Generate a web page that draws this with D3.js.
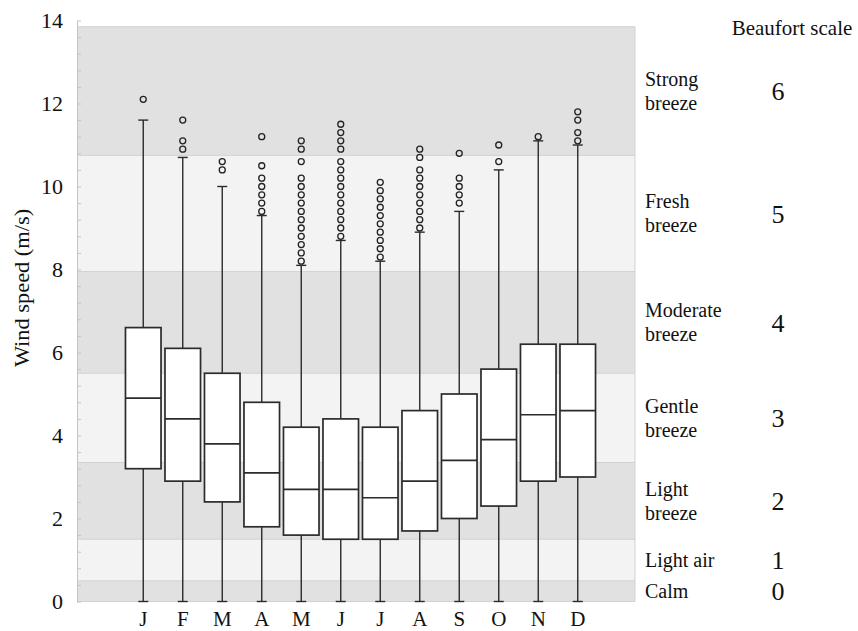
<!DOCTYPE html>
<html>
<head>
<meta charset="utf-8">
<script src="https://cdn.jsdelivr.net/npm/d3@7"></script>
<style>
  body { margin: 0; background: #fff; }
  text { font-family: "Liberation Serif", "Times New Roman", serif; fill: #111; }
</style>
</head>
<body>
<script>
const months = ["J", "F", "M", "A", "M", "J", "J", "A", "S", "O", "N", "D"];
const q1      = [3.2, 2.9, 2.4, 1.8, 1.6, 1.5, 1.5, 1.7, 2.0, 2.3, 2.9, 3.0];
const medians = [4.9, 4.4, 3.8, 3.1, 2.7, 2.7, 2.5, 2.9, 3.4, 3.9, 4.5, 4.6];
const q3      = [6.6, 6.1, 5.5, 4.8, 4.2, 4.4, 4.2, 4.6, 5.0, 5.6, 6.2, 6.2];
const whiskerLow  = [0, 0, 0, 0, 0, 0, 0, 0, 0, 0, 0, 0];
const whiskerHigh = [11.6, 10.7, 10.0, 9.3, 8.1, 8.7, 8.2, 8.9, 9.4, 10.4, 11.1, 11.0];
const outliers = [
  [12.1],
  [11.6, 11.1, 10.9],
  [10.6, 10.4],
  [11.2, 10.5, 10.2, 10.0, 9.8, 9.6, 9.4],
  [11.1, 10.9, 10.6, 10.2, 10.0, 9.8, 9.6, 9.4, 9.2, 9.0, 8.8, 8.6, 8.4, 8.2],
  [11.5, 11.3, 11.1, 10.9, 10.6, 10.4, 10.2, 10.0, 9.8, 9.6, 9.4, 9.2, 9.0, 8.8],
  [10.1, 9.9, 9.7, 9.5, 9.3, 9.1, 8.9, 8.7, 8.5, 8.3],
  [10.9, 10.7, 10.4, 10.2, 10.0, 9.8, 9.6, 9.4, 9.2, 9.0],
  [10.8, 10.2, 10.0, 9.8, 9.6],
  [11.0, 10.6],
  [11.2],
  [11.8, 11.6, 11.3, 11.1]
];

// Beaufort bands (lower edges) and labels
const bandEdges = [0, 0.5, 1.5, 3.35, 5.5, 7.95, 10.75, 13.85];
const bandNames = [["Calm"], ["Light air"], ["Light", "breeze"], ["Gentle", "breeze"],
                   ["Moderate", "breeze"], ["Fresh", "breeze"], ["Strong", "breeze"]];
const bandNumbers = ["0", "1", "2", "3", "4", "5", "6"];

const width = 858, height = 631;
const plot = { left: 77, right: 635 };

const svg = d3.select("body").append("svg")
  .attr("width", width)
  .attr("height", height);

const y = d3.scaleLinear().domain([0, 14]).range([601.5, 20.5]);
const x = d3.scaleBand().domain(d3.range(months.length))
  .range([123.5, 597.5]).paddingInner(0.1).paddingOuter(0.05);

// background bands
const bands = d3.range(bandEdges.length - 1).map(i => ({ lo: bandEdges[i], hi: bandEdges[i + 1], i }));
svg.append("g").selectAll("rect")
  .data(bands)
  .join("rect")
    .attr("x", plot.left)
    .attr("width", plot.right - plot.left)
    .attr("y", d => y(d.hi))
    .attr("height", d => y(d.lo) - y(d.hi))
    .attr("fill", d => d.i % 2 === 0 ? "#e1e1e1" : "#f3f3f3");

svg.append("g").selectAll("line")
  .data(bandEdges)
  .join("line")
    .attr("x1", plot.left).attr("x2", plot.right)
    .attr("y1", d => y(d)).attr("y2", d => y(d))
    .attr("stroke", "#d2d2d2");

svg.append("line")
  .attr("x1", plot.right).attr("x2", plot.right)
  .attr("y1", y(bandEdges[bandEdges.length - 1])).attr("y2", y(0))
  .attr("stroke", "#d2d2d2");

// y axis
const yAxis = svg.append("g")
  .attr("transform", `translate(${plot.left},0)`)
  .call(d3.axisLeft(y).tickValues(d3.range(0, 14.01, 2)).tickSize(0).tickPadding(14));
yAxis.select(".domain").attr("stroke", "#c4c4c4");
yAxis.selectAll("text").style("font-size", "22px").attr("font-family", null);

const yMinor = svg.append("g")
  .attr("transform", `translate(${plot.left},0)`)
  .call(d3.axisRight(y).tickValues(d3.range(0, 14.01, 0.4)).tickSize(4).tickFormat(""));
yMinor.select(".domain").remove();
yMinor.selectAll("line").attr("stroke", "#c4c4c4");

svg.append("text")
  .attr("transform", "translate(22,288) rotate(-90) scale(1.12,1)")
  .attr("text-anchor", "middle")
  .attr("dy", "0.35em")
  .style("font-size", "20px")
  .text("Wind speed (m/s)");

// x axis
const xAxis = svg.append("g")
  .attr("transform", `translate(0,${y(0)})`)
  .call(d3.axisBottom(x).tickFormat(i => months[i]).tickSize(0).tickPadding(10));
xAxis.select(".domain").remove();
xAxis.selectAll("text").style("font-size", "21px").attr("font-family", null);

// boxes
const stats = months.map((m, i) => ({
  i, q1: q1[i], med: medians[i], q3: q3[i], lo: whiskerLow[i], hi: whiskerHigh[i], out: outliers[i]
}));
const cx = i => x(i) + x.bandwidth() / 2;
const capW = 10;
const ink = "#2b2b2b";

const g = svg.append("g").selectAll("g").data(stats).join("g");

g.append("line")
  .attr("x1", d => cx(d.i)).attr("x2", d => cx(d.i))
  .attr("y1", d => y(d.lo)).attr("y2", d => y(d.hi))
  .attr("stroke", ink).attr("stroke-width", 1.4);

g.selectAll("line.cap")
  .data(d => [{ i: d.i, v: d.lo }, { i: d.i, v: d.hi }])
  .join("line")
    .attr("class", "cap")
    .attr("x1", d => cx(d.i) - capW / 2).attr("x2", d => cx(d.i) + capW / 2)
    .attr("y1", d => y(d.v)).attr("y2", d => y(d.v))
    .attr("stroke", ink).attr("stroke-width", 1.4);

g.append("rect")
  .attr("x", d => x(d.i))
  .attr("width", x.bandwidth())
  .attr("y", d => y(d.q3))
  .attr("height", d => y(d.q1) - y(d.q3))
  .attr("fill", "#fff")
  .attr("stroke", ink).attr("stroke-width", 1.7);

g.append("line")
  .attr("x1", d => x(d.i)).attr("x2", d => x(d.i) + x.bandwidth())
  .attr("y1", d => y(d.med)).attr("y2", d => y(d.med))
  .attr("stroke", ink).attr("stroke-width", 1.7);

g.selectAll("circle")
  .data(d => d.out.map(v => ({ i: d.i, v })))
  .join("circle")
    .attr("cx", d => cx(d.i))
    .attr("cy", d => y(d.v))
    .attr("r", 3)
    .attr("fill", "none")
    .attr("stroke", "#222").attr("stroke-width", 1.3);

// Beaufort labels
svg.append("text")
  .attr("x", 792).attr("y", 35)
  .attr("text-anchor", "middle")
  .style("font-size", "21px")
  .text("Beaufort scale");

const lab = svg.append("g").selectAll("g").data(bands).join("g")
  .attr("transform", d => `translate(0,${y((d.lo + d.hi) / 2)})`);

lab.append("text")
  .style("font-size", "20px")
  .each(function (d) {
    const lines = bandNames[d.i];
    const t = d3.select(this);
    lines.forEach((s, k) => {
      t.append("tspan")
        .attr("x", 645)
        .attr("y", (k - (lines.length - 1) / 2) * 24)
        .attr("dy", "0.35em")
        .text(s);
    });
  });

lab.append("text")
  .attr("x", 778)
  .attr("dy", "0.35em")
  .attr("text-anchor", "middle")
  .style("font-size", "26px")
  .text(d => bandNumbers[d.i]);
</script>
</body>
</html>
